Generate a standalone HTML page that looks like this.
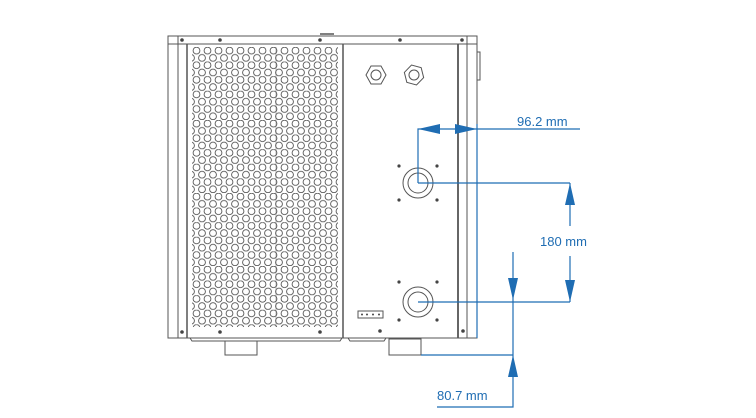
<!DOCTYPE html>
<html><head><style>body{margin:0;background:#fff}svg{display:block}</style></head><body>
<svg width="756" height="418" viewBox="0 0 756 418" xmlns="http://www.w3.org/2000/svg" font-family="Liberation Sans, sans-serif">
<defs>
<pattern id="h" patternUnits="userSpaceOnUse" x="191" y="47" width="11" height="14.6">
<g fill="none" stroke="#555" stroke-width="0.9">
<circle cx="5.5" cy="3.6" r="3.4"/><circle cx="0" cy="10.9" r="3.4"/><circle cx="11" cy="10.9" r="3.4"/>
</g></pattern>
</defs>
<g fill="none" stroke="#555" stroke-width="1">
<rect x="168" y="36" width="309" height="8"/>
<line x1="178" y1="36" x2="178" y2="44"/>
<line x1="467" y1="36" x2="467" y2="44"/>
<line x1="320" y1="34" x2="334" y2="34" stroke-width="1.5"/>
<rect x="168" y="44" width="309" height="294"/>
<line x1="178" y1="44" x2="178" y2="338"/>
<line x1="187" y1="44" x2="187" y2="338" stroke-width="1.5"/>
<line x1="343" y1="44" x2="343" y2="338" stroke-width="1.5"/>
<line x1="458" y1="44" x2="458" y2="338" stroke-width="1.8"/>
<line x1="467" y1="44" x2="467" y2="338"/>
<line x1="276" y1="47" x2="276" y2="327" stroke="#bbb"/>
<rect x="477" y="52" width="3" height="28"/>
<path d="M190 338 L192 341 L340 341 L342 338"/>
<path d="M348 338 L350 341 L384 341 L386 338"/>
<rect x="225" y="341" width="32" height="14"/>
<rect x="389" y="339" width="32" height="16"/>
<polygon points="366,75 371,66 381,66 386,75 381,84 371,84"/>
<circle cx="376" cy="75" r="5"/>
<polygon points="404,75 409,66 419,66 424,75 419,84 409,84" transform="rotate(15 414 75)"/>
<circle cx="414" cy="75" r="5"/>
<circle cx="418" cy="183" r="15"/><circle cx="418" cy="183" r="10"/>
<circle cx="418" cy="302" r="15"/><circle cx="418" cy="302" r="10"/>
<rect x="358" y="311" width="25" height="7"/>
</g>
<rect x="192" y="47" width="146" height="280" fill="url(#h)"/>
<g fill="#444">
<circle cx="182" cy="40" r="1.8"/><circle cx="220" cy="40" r="1.8"/><circle cx="320" cy="40" r="1.8"/><circle cx="400" cy="40" r="1.8"/><circle cx="462" cy="40" r="1.8"/>
<circle cx="182" cy="332" r="1.8"/><circle cx="220" cy="332" r="1.8"/><circle cx="320" cy="332" r="1.8"/><circle cx="380" cy="331" r="1.8"/><circle cx="463" cy="331" r="1.8"/>
<circle cx="399" cy="166" r="1.6"/><circle cx="437" cy="166" r="1.6"/><circle cx="399" cy="200" r="1.6"/><circle cx="437" cy="200" r="1.6"/>
<circle cx="399" cy="282" r="1.6"/><circle cx="437" cy="282" r="1.6"/><circle cx="399" cy="320" r="1.6"/><circle cx="437" cy="320" r="1.6"/>
<circle cx="362" cy="314.5" r="1"/><circle cx="367" cy="314.5" r="1"/><circle cx="373" cy="314.5" r="1"/><circle cx="379" cy="314.5" r="1"/>
</g>
<g stroke="#1f6db3" stroke-width="1.2" fill="none">
<path d="M418 183 V129 H580"/>
<line x1="477" y1="124" x2="477" y2="338"/>
<path d="M418 183 H570 M418 302 H570"/>
<path d="M570 183 V226 M570 256 V302"/>
<path d="M421 355 H513 M513 252 V407 H437"/>
</g>
<g fill="#1f6db3">
<polygon points="418,129 440,124 440,134"/>
<polygon points="477,129 455,124 455,134"/>
<polygon points="570,183 565,205 575,205"/>
<polygon points="570,302 565,280 575,280"/>
<polygon points="513,300 508,278 518,278"/>
<polygon points="513,355 508,377 518,377"/>
</g>
<g fill="#1f6db3" font-size="13">
<text x="517" y="126">96.2 mm</text>
<text x="540" y="246">180 mm</text>
<text x="437" y="400">80.7 mm</text>
</g>
</svg>
</body></html>
